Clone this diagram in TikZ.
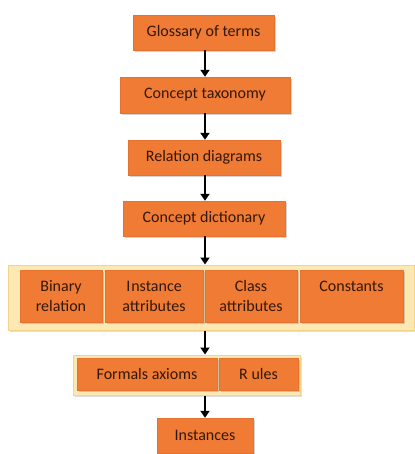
\documentclass[tikz,border=0pt]{standalone}
\usepackage{fontspec}
\setmainfont{Carlito}
\usetikzlibrary{shadows,arrows.meta}
\definecolor{boxorange}{HTML}{EF7B35}
\definecolor{boxedge}{HTML}{E57230}
\definecolor{labeltext}{HTML}{33180A}
\definecolor{panelfill}{HTML}{FCE8B2}
\definecolor{paneledge}{HTML}{F3D48A}
\newcommand{\cellhead}{\vphantom{lI}}
\tikzset{
  stepbox/.style={draw=boxedge, fill=boxorange, inner sep=0pt,
    text=labeltext, font=\fontsize{16}{20}\selectfont,
    drop shadow={shadow xshift=1.5pt, shadow yshift=-2pt, opacity=0.35}},
  panel/.style={draw=paneledge, fill=panelfill, line width=1pt, inner sep=0pt,
    drop shadow={shadow xshift=1.5pt, shadow yshift=-2pt, opacity=0.25}},
  celltext/.style={anchor=north, text=labeltext, align=center,
    font=\fontsize{16}{20}\selectfont, inner sep=0pt},
  flow/.style={-{Triangle[length=7pt,width=9pt]}, line width=2.2pt, black}
}
\begin{document}
\begin{tikzpicture}[x=1pt,y=-1pt]
  \useasboundingbox (0,0) rectangle (414,454);
  % main chain of steps
  \node[stepbox, minimum width=141pt, minimum height=35pt] (gloss) at (203.5,32.5) {Glossary of terms};
  \node[stepbox, minimum width=170pt, minimum height=36pt] (tax) at (205,95) {Concept taxonomy};
  \node[stepbox, minimum width=152pt, minimum height=35pt] (rel) at (204,157.5) {Relation diagrams};
  \node[stepbox, minimum width=162pt, minimum height=35pt] (dict) at (204,218.5) {Concept dictionary};
  % panel of four tables
  \node[panel, minimum width=406pt, minimum height=65pt] (tables) at (211,297.5) {};
  \node[stepbox, minimum width=82pt, minimum height=52pt] (bin) at (61,296) {};
  \node[stepbox, minimum width=98pt, minimum height=52pt] (inst) at (154,296) {};
  \node[stepbox, minimum width=92pt, minimum height=52pt] (cls) at (251,296) {};
  \node[stepbox, minimum width=103pt, minimum height=52pt] (const) at (351.5,296) {};
  \node[celltext] (binT) at (61,280) {\cellhead Binary\\relation};
  \node[celltext] (instT) at (154,280) {\cellhead I\kern1pt nstance\\attributes};
  \node[celltext] (clsT) at (251,280) {\cellhead Class\\attributes};
  \node[celltext] (constT) at (351.5,280) {\cellhead Constants};
  % panel of axioms and rules
  \node[panel, minimum width=227pt, minimum height=40pt] (logic) at (186.5,375) {};
  \node[stepbox, minimum width=140pt, minimum height=32pt] (ax) at (147,374) {Formals axioms};
  \node[stepbox, minimum width=79pt, minimum height=32pt] (rules) at (258.5,374) {R ules};
  % last step
  \node[stepbox, minimum width=96pt, minimum height=35pt] (insts) at (205,435.5) {Instances};
  % connectors
  \draw[flow] (gloss.south -| insts.north) -- (tax.north -| insts.north);
  \draw[flow] (tax.south -| insts.north) -- (rel.north -| insts.north);
  \draw[flow] (rel.south -| insts.north) -- (dict.north -| insts.north);
  \draw[flow] (dict.south -| insts.north) -- (tables.north -| insts.north);
  \draw[flow] (tables.south -| insts.north) -- (logic.north -| insts.north);
  \draw[flow] (logic.south -| insts.north) -- (insts.north);
\end{tikzpicture}
\end{document}
